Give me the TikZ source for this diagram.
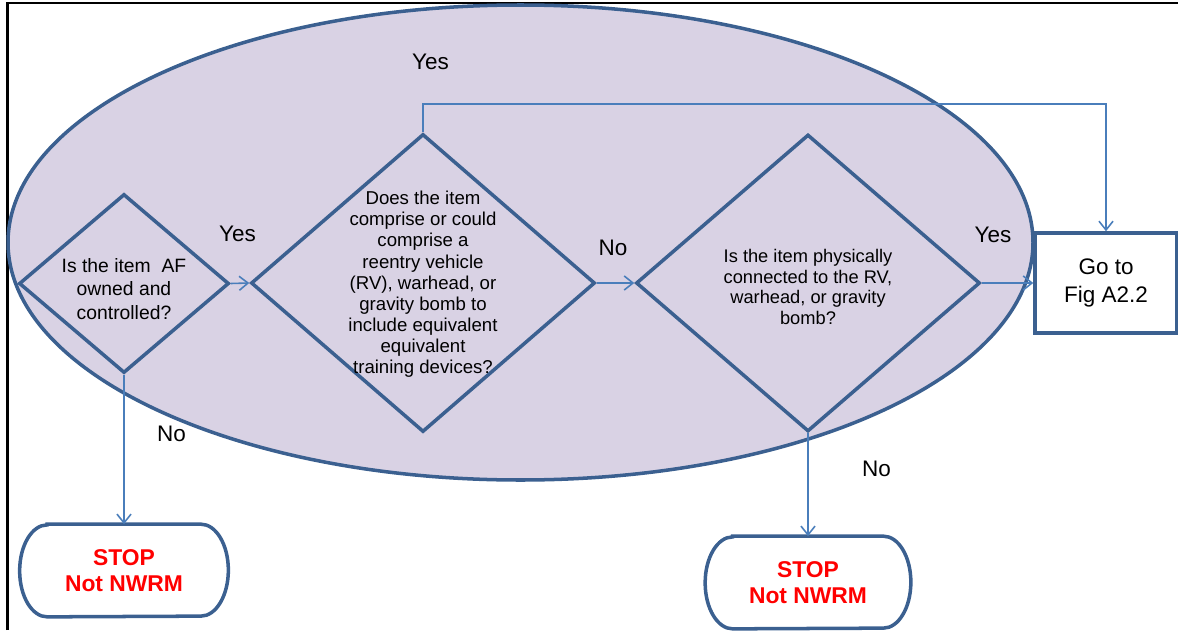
\documentclass[tikz,border=0pt]{standalone}
\usepackage{fontspec}
\setmainfont{Liberation Sans}
\usetikzlibrary{shapes.geometric,arrows.meta}

\definecolor{boxblue}{HTML}{3B6090}
\definecolor{flowblue}{HTML}{4A7EBB}
\definecolor{zonelilac}{HTML}{D9D2E4}
\definecolor{stopred}{HTML}{FF0000}

\tikzset{
  decision/.style={diamond, draw=boxblue, line width=2pt, inner sep=0pt},
  question/.style={align=center, inner sep=0pt},
  answer/.style={font=\fontsize{12.8}{15}\selectfont},
  flow/.style={draw=flowblue, line width=0.9pt, -{Straight Barb[length=5pt,width=8pt]}},
  gotobox/.style={draw=boxblue, fill=white, line width=2pt, align=center,
    font=\fontsize{12.8}{15.5}\selectfont},
  terminal/.style={align=center, text=stopred, font=\bfseries\fontsize{13}{15.2}\selectfont},
  termline/.style={draw=boxblue, line width=2pt},
}

\begin{document}
\begin{tikzpicture}
    \def\x{0.02}
    \def\y{-0.02}
    \def\u{0.02cm}
    \def\r{0.55cm}
    \def\h{0.92cm}
    \useasboundingbox (0,0) rectangle (1178*\x, 630*\y);
    \draw[line width=1.5pt] (7.5*\x, 630*\y) -- (7.5*\x, 3*\y) -- (1178*\x, 3*\y);
    \draw[draw=boxblue, fill=zonelilac, line width=2pt]
      (520.5*\x, 242.5*\y) ellipse [x radius=512.5*\u, y radius=237.5*\u];
    \node[decision, minimum width=210*\u, minimum height=179*\u] (d1) at (124*\x, 283.5*\y) {};
    \node[decision, minimum width=344*\u, minimum height=298*\u] (d2) at (423*\x, 283*\y) {};
    \node[decision, minimum width=344*\u, minimum height=297*\u] (d3) at (808*\x, 283*\y) {};
    \node[question, font=\fontsize{11}{13.3}\selectfont] (q1) at (124*\x, 289*\y)
      {Is the item\ \ AF\\owned and\\controlled?};
    \node[question, font=\fontsize{10.6}{12}\selectfont] (q2) at (423*\x, 284.3*\y)
      {Does the item\\comprise or could\\comprise a\\reentry vehicle\\(RV), warhead, or\\gravity bomb to\\include equivalent\\equivalent\\training devices?};
    \node[question, font=\fontsize{10.4}{11.8}\selectfont] (q3) at (808*\x, 287*\y)
      {Is the item physically\\connected to the RV,\\warhead, or gravity\\bomb?};
    \node[gotobox, minimum width=142*\u, minimum height=100*\u] (go) at (1106*\x, 283*\y)
      {Go to\\Fig A2.2};
    \node[terminal, minimum width=208*\u, minimum height=92*\u] (s1) at (124*\x, 570.5*\y)
      {STOP\\Not NWRM};
    \node[terminal, minimum width=205*\u, minimum height=92*\u] (s2) at (808*\x, 582.5*\y)
      {STOP\\Not NWRM};
    \foreach \n in {s1,s2}
      \draw[termline] ([xshift=\r]\n.north west) -- ([xshift=-\r]\n.north east)
        arc[start angle=90, end angle=-90, x radius=\r, y radius=\h]
        -- ([xshift=\r]\n.south west)
        arc[start angle=270, end angle=90, x radius=\r, y radius=\h] -- cycle;
    \node[answer] (yes1) at (237.5*\x, 233.5*\y) {Yes};
    \node[answer] (yes2) at (430.5*\x, 62*\y) {Yes};
    \node[answer] (no1) at (613*\x, 248*\y) {No};
    \node[answer] (yes3) at (993*\x, 234.5*\y) {Yes};
    \node[answer] (no2) at (171.5*\x, 434*\y) {No};
    \node[answer] (no3) at (876.5*\x, 468.5*\y) {No};
    \coordinate (over) at (0, 104*\y);
    \path[flow] (d1.east) -- (d2.west);
    \path[flow] (d2.east) -- (d3.west);
    \path[flow] (d3.east) -- (go.west);
    \path[flow] (d2.north) -- (d2.north |- over) -| (go.north);
    \path[flow] (d1.south) -- (s1.north);
    \path[flow] (d3.south) -- (s2.north);
\end{tikzpicture}
\end{document}
